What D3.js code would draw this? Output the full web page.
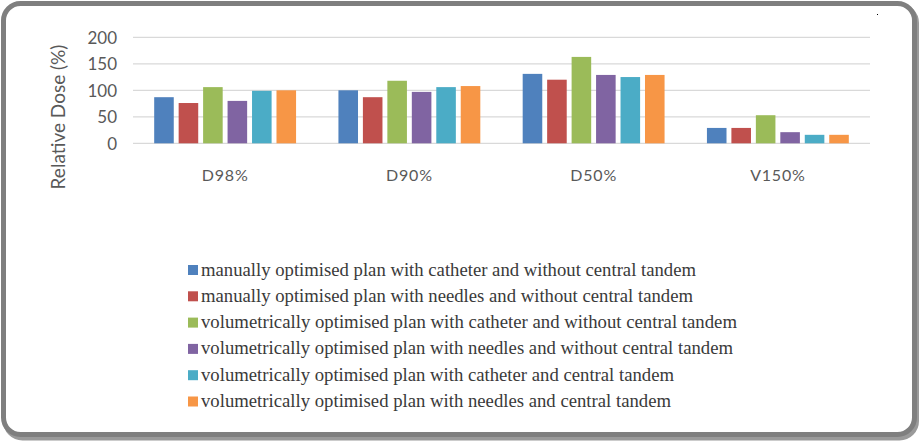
<!DOCTYPE html>
<html><head><meta charset="utf-8">
<script src="https://cdn.jsdelivr.net/npm/d3@7"></script>
<style>body{margin:0;background:#fff;}svg{display:block;}
.sans{font-family:Lato,"Open Sans",sans-serif;}
</style>
</head><body>
<svg id="c" width="920" height="446"></svg>
<script>
const categories = ["D98%", "D90%", "D50%", "V150%"];
const seriesNames = [
  "manually optimised plan with catheter and without central tandem",
  "manually optimised plan with needles and without central tandem",
  "volumetrically optimised plan with catheter and without central tandem",
  "volumetrically optimised plan with needles and without central tandem",
  "volumetrically optimised plan with catheter and central tandem",
  "volumetrically optimised plan with needles and central tandem"
];
const manualCatheter = [87, 100, 131, 29];
const manualNeedles = [76, 87, 120, 29];
const volCatheter = [106, 118, 163, 53];
const volNeedles = [80, 97, 129, 21];
const volCatheterTandem = [99, 106, 125, 16];
const volNeedlesTandem = [100, 108, 129, 16];
const yTicks = [0, 50, 100, 150, 200];
const colors = ["#4f81bd", "#c0504d", "#9bbb59", "#8064a2", "#4bacc6", "#f79646"];
const legendWidths = [495, 492, 536, 532, 473, 470];

const seriesValues = [manualCatheter, manualNeedles, volCatheter, volNeedles, volCatheterTandem, volNeedlesTandem];

const svg = d3.select("#c");

// frame
svg.append("rect").attr("x", 5.5).attr("y", 6).attr("width", 911).attr("height", 432)
  .attr("rx", 17).attr("fill", "none").attr("stroke", "#9a9a9a").attr("stroke-width", 5);
svg.append("rect").attr("x", 3.5).attr("y", 3.5).attr("width", 911).attr("height", 431)
  .attr("rx", 17).attr("fill", "#fff").attr("stroke", "#7f7f7f").attr("stroke-width", 5);

const x0 = d3.scaleBand().domain(categories).range([133, 870]).paddingInner(0.23).paddingOuter(0.115);
const x1 = d3.scaleBand().domain(d3.range(seriesNames.length)).range([0, x0.bandwidth()]).paddingInner(0.2);
const y = d3.scaleLinear().domain([0, 200]).range([143.3, 37.3]);

// gridlines
svg.append("g").selectAll("line").data(yTicks).join("line")
  .attr("x1", 133).attr("x2", 870)
  .attr("y1", d => y(d)).attr("y2", d => y(d))
  .attr("stroke", "#d9d9d9").attr("stroke-width", 1.2);

// y tick labels
const yAxis = d3.axisLeft(y).tickValues(yTicks).tickSize(0).tickPadding(0);
const ya = svg.append("g").attr("transform", "translate(117,0)").call(yAxis);
ya.select(".domain").remove();
ya.selectAll("text").attr("class", "sans").attr("font-family", null).attr("font-size", 17)
  .attr("fill", "#595959").attr("dy", "0.35em");

// category labels
const xAxis = d3.axisBottom(x0).tickSize(0).tickPadding(0);
const xa = svg.append("g").attr("transform", "translate(0,168)").call(xAxis);
xa.select(".domain").remove();
xa.selectAll("text").attr("class", "sans").attr("font-size", 16)
  .attr("fill", "#595959").attr("dy", "0.8em").attr("letter-spacing", 0.8);

// bars
const groups = svg.append("g").selectAll("g").data(categories).join("g")
  .attr("transform", d => `translate(${x0(d)},0)`);
groups.selectAll("rect").data((c, ci) => seriesValues.map((s, si) => ({si, v: s[ci]}))).join("rect")
  .attr("x", d => x1(d.si)).attr("width", x1.bandwidth())
  .attr("y", d => y(d.v)).attr("height", d => y(0) - y(d.v))
  .attr("fill", d => colors[d.si]);

// y axis title
svg.append("text").attr("class", "sans").attr("transform", "translate(65,117) rotate(-90)")
  .attr("text-anchor", "middle")
  .attr("font-size", 19).attr("fill", "#595959").text("Relative Dose (%)");

// legend
const leg = svg.append("g").selectAll("g").data(seriesNames).join("g")
  .attr("transform", (d, i) => `translate(188,${270 + i * 26.3})`);
leg.append("rect").attr("x", 0).attr("y", -5).attr("width", 10).attr("height", 10)
  .attr("fill", (d, i) => colors[i]);
leg.append("text").attr("x", 13).attr("y", 5.5)
  .style("font-family", "'Liberation Serif', 'DejaVu Serif', serif")
  .style("font-size", "18px")
  .attr("fill", "#3a3a3a")
  .attr("textLength", (d, i) => legendWidths[i]).attr("lengthAdjust", "spacingAndGlyphs")
  .text(d => d);

// tiny dot
svg.append("rect").attr("x", 877).attr("y", 14).attr("width", 1).attr("height", 1).attr("fill", "#000");
</script>
</body></html>
